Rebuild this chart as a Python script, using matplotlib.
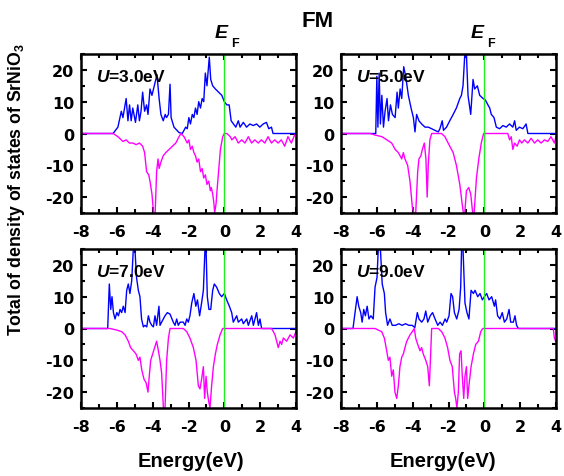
import matplotlib
matplotlib.use('Agg')
import matplotlib.pyplot as plt
from matplotlib.ticker import MultipleLocator

plt.rcParams['font.family'] = ['Liberation Sans', 'DejaVu Sans']
plt.rcParams['font.weight'] = 'bold'
plt.rcParams['axes.unicode_minus'] = False
plt.rcParams['mathtext.fontset'] = 'custom'
plt.rcParams['mathtext.rm'] = 'Liberation Sans:bold'
plt.rcParams['mathtext.it'] = 'Liberation Sans:bold:italic'
plt.rcParams['mathtext.bf'] = 'Liberation Sans:bold'

# U = 3.0 eV
e_up3 = [-8, -6.21, -5.94, -5.75, -5.66, -5.48, -5.38, -5.29, -5.20, -5.11, -4.96, -4.83, -4.74, -4.65,
         -4.56, -4.45, -4.34, -4.26, -4.15, -4.04, -3.91, -3.76, -3.64, -3.54, -3.41, -3.30, -3.23, -3.12,
         -3.03, -2.97, -2.81, -2.53, -2.35, -2.25, -2.16, -2.07, -1.98, -1.89, -1.79, -1.70, -1.61, -1.52,
         -1.43, -1.33, -1.24, -1.15, -1.06, -0.97,
         -0.84, -0.76, -0.65, -0.50, -0.32, -0.14, 0.0, 0.14, 0.27, 0.38, 0.51, 0.64, 0.78, 0.88, 1.06,
         1.24, 1.43, 1.61, 1.80, 1.98, 2.17, 2.35, 2.48, 2.63, 2.72, 4]
up3 = [0, 0, 2, 7, 5, 11, 4, 9, 4, 8, 3.5, 9, 4, 7,
       13, 7, 9, 6, 14, 12, 15, 18.5, 11, 6, 4, 6, 5, 6,
       15.5, 5, 2, 0.3, 0, 1, 2, 1.5, 5, 3, 6, 5, 8, 6,
       10, 8, 11, 10, 19, 15,
       24, 17, 15, 14, 13, 12, 10, 9, 9, 4, 3, 2, 4, 2, 3.5,
       2, 3, 2.5, 3, 2, 3, 3.5, 1.5, 2, 0, 0]
e_dn3 = [-8, -6.2, -5.94, -5.66, -5.48, -5.30, -5.11, -4.92, -4.74, -4.56, -4.45, -4.34, -4.22, -4.15,
         -4.04, -3.95, -3.86, -3.78, -3.70, -3.64, -3.54, -3.41, -3.27, -3.08, -2.90, -2.71, -2.53, -2.42,
         -2.25, -2.07, -1.98, -1.89, -1.79, -1.70, -1.61, -1.52, -1.43, -1.33, -1.24, -1.15, -1.06, -0.97,
         -0.87, -0.78, -0.73, -0.65, -0.58, -0.54, -0.46, -0.41, -0.35, -0.22,
         -0.09, 0.0, 0.14, 0.33, 0.42, 0.60, 0.78, 0.97, 1.15, 1.34, 1.52, 1.70, 1.89, 2.07, 2.26, 2.44,
         2.63, 2.81, 3.00, 3.18, 3.37, 3.55, 3.74, 3.92]
dn3 = [0, 0, -1, -2.5, -2, -3, -3, -3.5, -3, -4, -6, -12, -13, -15,
       -19, -25, -25, -12, -8, -11, -9, -7, -6, -5, -4, -3, -1, 0,
       -1, -3, -2, -5, -4, -6, -7, -9, -8, -12, -11, -14, -13, -16,
       -15, -18, -17, -19, -22, -25, -22, -18, -14, -5,
       -1, 0, 0, -1, -2, -1, -3, -2, -3, -1, -3, -2, -3, -2, -3, -1,
       -3, -2, -3, -2, -4, -1, -3, -0.5]

# U = 5.0 eV
e_up5 = [-8, -6.06, -6.00, -5.94, -5.87, -5.80, -5.72, -5.63, -5.54, -5.43, -5.35, -5.24, -5.13, -4.98,
         -4.87, -4.80, -4.70, -4.61, -4.50, -4.39, -4.24, -4.09, -3.96, -3.87, -3.78, -3.65, -3.50, -3.31,
         -3.13, -2.94, -2.76, -2.57, -2.48, -2.35, -2.28, -2.11, -1.93, -1.74, -1.56, -1.37, -1.28, -1.19,
         -1.09, -1.00, -0.91, -0.76, -0.63, -0.54, -0.39, -0.26, -0.07, 0.06, 0.20, 0.30, 0.39, 0.54,
         0.67, 0.85, 1.04, 1.22, 1.41, 1.59, 1.69, 1.78, 1.96, 2.15, 2.33, 2.43, 4]
up5 = [0, 0, 18, 2, 19, 3, 12, 2, 7, 11, 4, 9, 6, 5,
       13, 8, 14, 11, 21, 18, 12, 8, 5, 0.5, 6, 4, 3, 2,
       2, 1.5, 1, 0.5, 1.5, 4, 1, 2, 4, 6, 8, 11, 12, 15,
       25, 25, 12, 6, 17, 14, 15, 12, 11, 10.5, 9, 8, 6, 5,
       2, 1.5, 2.5, 2, 3, 2, 4, 1, 2, 1.5, 3, 0, 0]
e_dn5 = [-8, -6.37, -6.09, -5.72, -5.44, -5.17, -4.98, -4.80, -4.61, -4.52, -4.43, -4.28, -4.15, -4.02,
         -3.94, -3.83, -3.72, -3.65, -3.54, -3.46, -3.35, -3.26, -3.19, -3.13, -3.04, -2.94, -2.39, -2.20,
         -1.93, -1.74, -1.56, -1.37, -1.24, -1.17, -1.09, -1.00, -0.87, -0.76, -0.65, -0.57, -0.44, -0.31,
         -0.17, -0.04, 1.31, 1.41, 1.50, 1.59, 1.69, 1.83, 1.96, 2.09, 2.24, 2.43, 2.61, 2.80, 2.98, 3.17,
         3.35, 3.54, 3.72, 3.91, 4]
dn5 = [0, 0, -0.5, -1, -2, -3, -5, -6, -8, -6, -8, -10, -15, -23,
       -25, -25, -12, -8, -7, -5, -3, -8, -20, -10, -2, 0, 0, -1,
       -4, -6, -10, -16, -22, -25, -25, -18, -17, -19, -25, -25, -14, -8,
       -3, 0, 0, -2, -1, -5, -3, -4, -2, -3, -2, -3, -1.5, -3, -2, -3,
       -2, -2.5, -1, -3, -1]

# U = 7.0 eV
e_up7 = [-8, -6.57, -6.51, -6.42, -6.34, -6.27, -6.19, -6.10, -6.00, -5.91, -5.82, -5.73, -5.64, -5.54,
         -5.45, -5.36, -5.27, -5.17, -5.08, -4.99, -4.90, -4.80, -4.71, -4.62, -4.52, -4.43, -4.33, -4.24,
         -4.15, -4.05, -3.96, -3.87, -3.78, -3.65, -3.59, -3.50, -3.31, -3.18, -3.03, -2.85, -2.75, -2.66,
         -2.57, -2.47, -2.29, -2.19, -2.10, -2.01, -1.92, -1.82, -1.70, -1.59, -1.50, -1.38, -1.27, -1.17,
         -1.08, -1.02, -0.95, -0.86, -0.76, -0.65, -0.56, -0.43, -0.28, -0.15, 0.0, 0.13, 0.28, 0.41,
         0.50, 0.69, 0.78, 0.97, 1.06, 1.25, 1.34, 1.53, 1.62, 1.80, 1.90, 1.99, 2.08, 4]
up7 = [0, 0, 0, 14, 6, 10, 5, 3, 5, 4, 6, 5, 7, 5,
       12, 14, 11, 15, 25, 25, 16, 12, 10, 3, 0.5, 1, 0.5, 4,
       2, 1, 0.5, 4, 1, 7, 1, 2, 4, 5, 4.5, 2, 1, 3,
       1, 2, 2, 1, 3, 2, 4, 8, 11, 7, 9, 4, 8, 12,
       25, 25, 10, 6, 6, 12, 14, 13, 11, 10, 11, 9, 7, 5,
       2, 4, 2, 3, 1.5, 3, 1, 4, 1, 5, 1, 3, 0, 0]
e_dn7 = [-8, -6.38, -6.00, -5.73, -5.54, -5.36, -5.23, -5.08, -4.93, -4.80, -4.71, -4.61, -4.48, -4.37,
         -4.26, -4.19, -4.11, -4.00, -3.89, -3.78, -3.68, -3.59, -3.50, -3.40, -3.31, -3.22, -3.12, -3.03,
         -2.29, -2.10, -1.92, -1.73, -1.58, -1.45, -1.36, -1.27, -1.17, -1.10, -1.02, -0.95, -0.87, -0.80,
         -0.71, -0.61, -0.50, -0.39, -0.24, -0.09, 2.64, 2.83, 2.92, 3.01, 3.11, 3.20, 3.29, 3.48, 3.67,
         3.85, 4]
dn7 = [0, 0, -0.5, -1, -2, -4, -6, -7, -8, -10, -9, -13, -16, -17,
       -20, -15, -10, -8, -6, -4, -7, -10, -14, -25, -25, -10, -3, 0,
       0, -1, -3, -6, -10, -18, -19, -16, -12, -22, -15, -20, -23, -25,
       -18, -12, -8, -5, -2, 0, 0, -2, -4, -6, -4, -5, -3, -4, -2,
       -3, -1]

# U = 9.0 eV
e_up9 = [-8, -7.33, -7.24, -7.10, -7.01, -6.90, -6.82, -6.73, -6.64, -6.54, -6.44, -6.33, -6.20, -6.10,
         -5.99, -5.92, -5.80, -5.70, -5.58, -5.51, -5.40, -5.27, -5.14, -4.96, -4.77, -4.59, -4.40, -4.21,
         -4.03, -3.88, -3.74, -3.65, -3.50, -3.37, -3.27, -3.16, -3.02, -2.89, -2.75, -2.60, -2.47, -2.34,
         -2.19, -2.10, -1.97, -1.86, -1.77, -1.67, -1.54, -1.41, -1.32, -1.27, -1.19, -1.08, -0.97, -0.86,
         -0.74, -0.61, -0.52, -0.37, -0.24, -0.11, 0.0, 0.13, 0.26, 0.41, 0.56, 0.63, 0.74, 0.87, 1.00,
         1.12, 1.25, 1.38, 1.47, 1.62, 1.71, 1.80, 1.90, 4]
up9 = [0, 0, 4, 10, 7, 5, 2, 6, 4, 7, 3, 4, 3, 13,
       16, 25, 25, 14, 11, 5, 1, 3, 1, 1, 1.5, 1, 1.5, 1,
       1, 0.3, 5, 3, 2, 3, 5.5, 2, 4, 5, 3, 1, 2, 1,
       3, 2, 4, 11, 10, 5, 3, 6, 13, 25, 25, 8, 5, 3,
       12, 11, 12, 10, 11, 9, 10, 11, 9, 10, 7, 9, 4, 3, 5,
       2, 3, 6, 2, 2, 4, 1, 0, 0]
e_dn9 = [-8, -6.10, -5.92, -5.73, -5.58, -5.45, -5.36, -5.27, -5.17, -5.08, -4.99, -4.89, -4.80, -4.71,
         -4.61, -4.52, -4.43, -4.33, -4.24, -4.15, -4.02, -3.91, -3.83, -3.72, -3.59, -3.50, -3.41, -3.27,
         -3.16, -3.07, -3.01, -2.94, -2.57, -2.38, -2.20, -2.05, -1.92, -1.79, -1.67, -1.60, -1.53, -1.45,
         -1.38, -1.30, -1.23, -1.15, -1.08, -1.00, -0.93, -0.86, -0.74, -0.61, -0.48, -0.33, -0.20, -0.09,
         3.85, 3.91, 3.98]
dn9 = [0, 0, -0.5, -1, -3, -7, -10, -9, -15, -13, -20, -22, -18, -12,
       -9, -8, -6, -4, -3, -2, -1, 0, -3, -5, -7, -6, -8, -10,
       -12, -18, -10, 0, 0, -1, -3, -6, -10, -12, -20, -22, -25, -20,
       -8, -7, -15, -22, -15, -12, -22, -18, -12, -8, -5, -4, -1, 0,
       0, -3, -4]

panels = [
    ('3.0', e_up3, up3, e_dn3, dn3),
    ('5.0', e_up5, up5, e_dn5, dn5),
    ('7.0', e_up7, up7, e_dn7, dn7),
    ('9.0', e_up9, up9, e_dn9, dn9),
]

fig = plt.figure(figsize=(5.64, 4.77), dpi=100)
W, H = 564.0, 477.0
boxes = [(81, 55), (341, 55), (81, 250), (341, 250)]

axs = []
for (u, eu, du, ed, dd), (px, py) in zip(panels, boxes):
    ax = fig.add_axes([px / W, 1 - (py + 159) / H, 215 / W, 159 / H])
    ax.plot(eu, du, color='#0000ff', lw=1.0)
    ax.plot(ed, dd, color='#ff00ff', lw=1.0)
    ax.axvline(0, color='#22ee22', lw=1.0)
    ax.set_xlim(-8, 4)
    ax.set_ylim(-25, 25)
    ax.set_xticks(range(-8, 5, 2))
    ax.set_yticks([-20, -10, 0, 10, 20])
    ax.xaxis.set_minor_locator(MultipleLocator(1))
    ax.yaxis.set_minor_locator(MultipleLocator(5))
    ax.tick_params(which='both', direction='in', top=True, right=True, width=1.5,
                   labelsize=11.5, labelfontfamily='DejaVu Sans')
    ax.tick_params(axis='x', pad=8)
    ax.tick_params(axis='y', pad=5)
    ax.tick_params(which='major', length=4.5)
    ax.tick_params(which='minor', length=3)
    for s in ax.spines.values():
        s.set_linewidth(1.8)
    ax.text(-7.15, 18, r'$\mathit{U}$=' + u + 'eV', fontsize=12.5, fontweight='bold',
            va='center', ha='left')
    axs.append(ax)

for ax, dx in zip(axs[:2], [-0.15, -0.4]):
    ax.text(dx, 1.105, 'E', transform=ax.get_xaxis_transform(), fontsize=14,
            fontstyle='italic', fontweight='bold', ha='center', va='baseline')
    ax.text(dx + 0.75, 1.05, 'F', transform=ax.get_xaxis_transform(), fontsize=9,
            fontweight='bold', ha='center', va='baseline')

fig.text(318 / W, 1 - 27 / H, 'FM', fontsize=16, fontweight='bold', ha='center', va='baseline')
fig.text(17 / W, 1 - 190 / H, r'Total of density of states of SrNiO$_\mathrm{3}$', rotation=90,
         fontsize=12.7, fontweight='bold', ha='center', va='center')
fig.text(191 / W, 1 - 467 / H, 'Energy(eV)', fontsize=14.5, fontweight='bold', ha='center', va='baseline')
fig.text(443 / W, 1 - 467 / H, 'Energy(eV)', fontsize=14.5, fontweight='bold', ha='center', va='baseline')

fig.savefig('out.png', dpi=100)
